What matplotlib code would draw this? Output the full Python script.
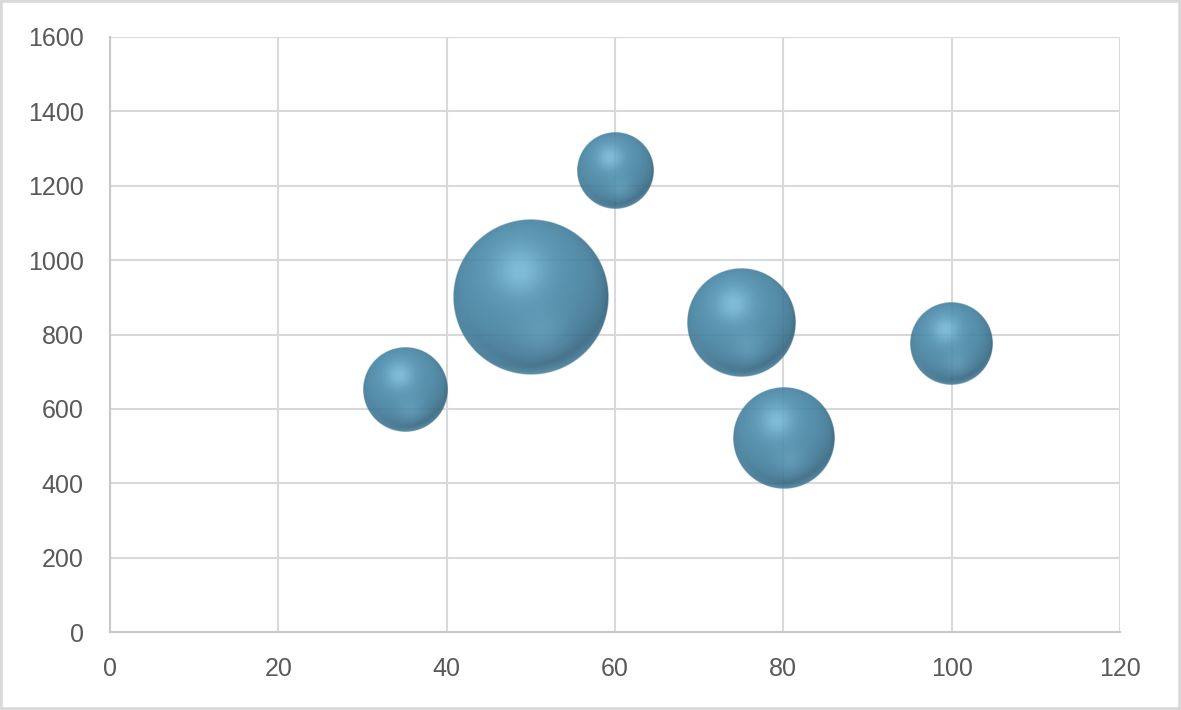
import numpy as np
import matplotlib.pyplot as plt
from matplotlib.patches import Rectangle

# bubble data
x_vals = [35, 50, 60, 75, 80, 100]
y_vals = [650, 900, 1240, 830, 520, 775]
bubble_sizes = [29, 100, 24, 48, 42, 28]

x_ticks = [0, 20, 40, 60, 80, 100, 120]
y_ticks = [0, 200, 400, 600, 800, 1000, 1200, 1400, 1600]

plt.rcParams['font.family'] = ['Liberation Sans', 'DejaVu Sans']


def sphere_image(n=300):
    u = np.linspace(-1, 1, n)
    v = np.linspace(1, -1, n)
    U, V = np.meshgrid(u, v)
    R = np.sqrt(U ** 2 + V ** 2)
    Z = np.sqrt(np.clip(1 - R ** 2, 0, 1))

    light_dir = np.array([-0.2, 0.45, 0.87])
    light_dir = light_dir / np.linalg.norm(light_dir)
    diff = np.clip(U * light_dir[0] + V * light_dir[1] + Z * light_dir[2], 0, 1)

    dark = np.array([44, 92, 118]) / 255
    base = np.array([74, 140, 172]) / 255
    light = np.array([140, 208, 236]) / 255

    col = dark + (base - dark) * diff[..., None] ** 0.6
    h = np.exp(-((U + 0.14) ** 2 + (V - 0.34) ** 2) / (2 * 0.22 ** 2))
    col = col + (light - col) * (h[..., None] * 0.6)
    g = np.exp(-((U - 0.12) ** 2 + (V + 0.45) ** 2) / (2 * 0.22 ** 2))
    col = col + (light - col) * (g[..., None] * 0.2)
    rim = np.clip((R - 0.85) / 0.15, 0, 1) * np.clip(-V, 0, 1)
    col = col + (np.array([105, 172, 204]) / 255 - col) * (rim[..., None] * 0.5)

    alpha = np.clip((1 - R) * n / 2, 0, 1) * 0.9
    img = np.dstack([np.clip(col, 0, 1), alpha])
    return img


fig = plt.figure(figsize=(11.81, 7.10), dpi=100)
ax = fig.add_axes([110 / 1181, 1 - 632 / 710, 1010 / 1181, 595 / 710])
ax.set_xlim(0, 120)
ax.set_ylim(0, 1600)
ax.set_autoscale_on(False)
ax.set_xticks(x_ticks)
ax.set_yticks(y_ticks)
ax.grid(True, color='#d9d9d9', linewidth=1.5)
ax.set_axisbelow(True)
for side in ['top', 'right']:
    ax.spines[side].set_visible(False)
for side in ['left', 'bottom']:
    ax.spines[side].set_color('#c8c8c8')
    ax.spines[side].set_linewidth(1.5)
ax.tick_params(axis='both', length=0, labelsize=18, labelcolor='#595959')
ax.tick_params(axis='x', pad=18)
ax.tick_params(axis='y', pad=19)

img = sphere_image()
max_radius_px = 78
biggest = max(bubble_sizes)
to_data = ax.transData.inverted()
for x, y, s in zip(x_vals, y_vals, bubble_sizes):
    r_px = max_radius_px * np.sqrt(s / biggest)
    cx, cy = ax.transData.transform((x, y))
    x0, y0 = to_data.transform((cx - r_px, cy - r_px))
    x1, y1 = to_data.transform((cx + r_px, cy + r_px))
    ax.imshow(img, extent=(x0, x1, y0, y1), origin='upper', aspect='auto',
              interpolation='bilinear', zorder=3)

ax.set_xlim(0, 120)
ax.set_ylim(0, 1600)

fig.patches.append(Rectangle((0, 0), 1, 1, transform=fig.transFigure, fill=False,
                             edgecolor='#d9d9d9', linewidth=4))

fig.savefig('out.png', dpi=100)
